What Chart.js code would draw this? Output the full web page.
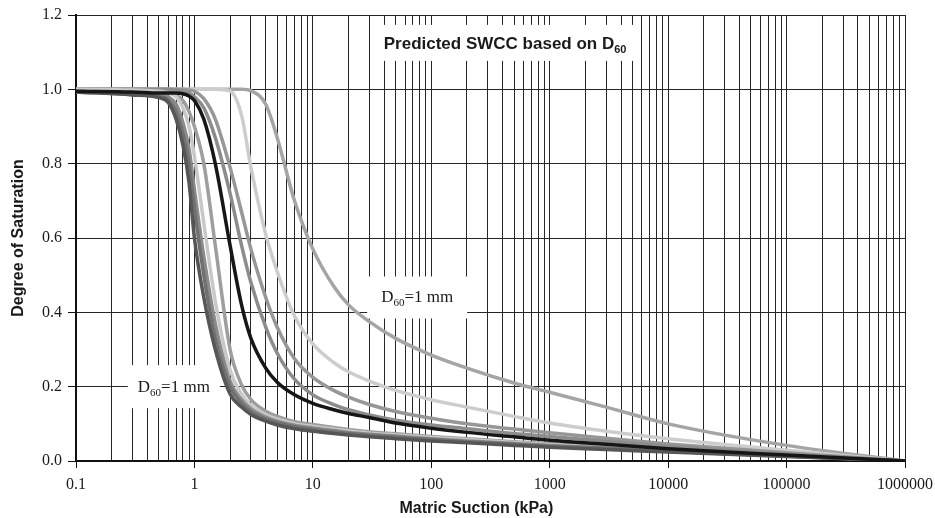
<!DOCTYPE html>
<html>
<head>
<meta charset="utf-8">
<script src="https://cdn.jsdelivr.net/npm/chart.js@4.4.0/dist/chart.umd.min.js"></script>
<style>
  body { margin: 0; background: #fff; }
</style>
</head>
<body>
<canvas id="chart" width="935" height="518"></canvas>
<script>
const suction = [0.1, 0.3, 0.5, 0.6, 0.7, 0.8, 0.9, 1, 1.2, 1.5, 2, 2.5, 3, 4, 5, 7, 10, 15, 20, 30, 50, 100, 200, 500, 1000, 3000, 10000, 100000, 1000000];

// degree of saturation, one array per curve
const curveBlack = [0.995, 0.993, 0.99, 0.99, 0.99, 0.988, 0.982, 0.97, 0.92, 0.8, 0.58, 0.42, 0.33, 0.25, 0.212, 0.178, 0.155, 0.138, 0.128, 0.117, 0.102, 0.088, 0.077, 0.065, 0.056, 0.045, 0.033, 0.016, 0];
const curveA = [0.993, 0.985, 0.978, 0.965, 0.92, 0.85, 0.75, 0.6, 0.44, 0.3, 0.18, 0.145, 0.125, 0.107, 0.097, 0.087, 0.08, 0.074, 0.07, 0.065, 0.06, 0.054, 0.049, 0.042, 0.037, 0.031, 0.024, 0.012, 0];
const curveB = [0.993, 0.986, 0.98, 0.972, 0.94, 0.88, 0.8, 0.68, 0.5, 0.33, 0.2, 0.155, 0.133, 0.113, 0.103, 0.092, 0.085, 0.078, 0.074, 0.069, 0.064, 0.058, 0.052, 0.045, 0.04, 0.034, 0.026, 0.013, 0];
const curveC = [0.995, 0.99, 0.985, 0.98, 0.96, 0.91, 0.84, 0.73, 0.55, 0.37, 0.215, 0.165, 0.14, 0.118, 0.107, 0.096, 0.089, 0.082, 0.077, 0.072, 0.067, 0.06, 0.054, 0.047, 0.042, 0.035, 0.027, 0.014, 0];
const curveD = [1.0, 0.998, 0.995, 0.99, 0.98, 0.95, 0.9, 0.82, 0.64, 0.43, 0.245, 0.18, 0.15, 0.125, 0.113, 0.1, 0.093, 0.086, 0.081, 0.075, 0.07, 0.063, 0.057, 0.05, 0.044, 0.037, 0.029, 0.015, 0];
const curveE = [1.0, 0.998, 0.996, 0.993, 0.985, 0.97, 0.94, 0.9, 0.8, 0.58, 0.3, 0.205, 0.165, 0.134, 0.12, 0.106, 0.098, 0.09, 0.085, 0.079, 0.073, 0.066, 0.06, 0.052, 0.047, 0.039, 0.031, 0.016, 0];
const curveG = [1.0, 1.0, 1.0, 1.0, 0.998, 0.995, 0.99, 0.98, 0.95, 0.87, 0.72, 0.58, 0.48, 0.36, 0.29, 0.22, 0.178, 0.152, 0.138, 0.124, 0.11, 0.097, 0.087, 0.074, 0.066, 0.053, 0.04, 0.019, 0];
const curveH = [1.0, 1.0, 1.0, 1.0, 1.0, 1.0, 0.998, 0.995, 0.975, 0.92, 0.79, 0.67, 0.57, 0.44, 0.36, 0.275, 0.225, 0.19, 0.172, 0.152, 0.133, 0.115, 0.1, 0.086, 0.076, 0.061, 0.046, 0.022, 0];
const curveI = [1.0, 1.0, 1.0, 1.0, 1.0, 1.0, 1.0, 1.0, 1.0, 1.0, 0.995, 0.93, 0.79, 0.61, 0.51, 0.39, 0.315, 0.265, 0.24, 0.215, 0.19, 0.165, 0.145, 0.12, 0.102, 0.08, 0.06, 0.029, 0];
const curveJ = [1.0, 1.0, 1.0, 1.0, 1.0, 1.0, 1.0, 1.0, 1.0, 1.0, 1.0, 1.0, 0.996, 0.96, 0.87, 0.7, 0.57, 0.47, 0.42, 0.375, 0.33, 0.285, 0.25, 0.21, 0.185, 0.145, 0.1, 0.042, 0];

// x axis labels sit on these decades, y ticks every 0.2
const decades = [0.1, 1, 10, 100, 1000, 10000, 100000, 1000000];
const satTicks = [0, 0.2, 0.4, 0.6, 0.8, 1.0, 1.2];

const serif = "'Liberation Serif', 'Times New Roman', serif";
const sans = "'Liberation Sans', Arial, sans-serif";

function toPoints(ys) {
  return suction.map((x, i) => ({ x: x, y: ys[i] }));
}

function curve(ys, colour) {
  return {
    data: toPoints(ys),
    borderColor: colour,
    borderWidth: 3.5,
    pointRadius: 0,
    cubicInterpolationMode: "monotone",
    fill: false,
  };
}

function isDecade(v) {
  const l = Math.log10(v);
  return Math.abs(l - Math.round(l)) < 1e-6;
}

// text with a subscript, e.g. D + 60 + "=1 mm"
function drawParts(ctx, parts, x, y) {
  let cx = x;
  parts.forEach((p) => {
    ctx.font = p.font;
    ctx.fillText(p.text, cx, y + (p.dy || 0));
    cx += ctx.measureText(p.text).width;
  });
}

function partsWidth(ctx, parts) {
  let w = 0;
  parts.forEach((p) => {
    ctx.font = p.font;
    w += ctx.measureText(p.text).width;
  });
  return w;
}

const labelPlugin = {
  id: "labels",
  beforeDatasetsDraw(chart) {
    const ctx = chart.ctx;
    const xs = chart.scales.x;
    const ys = chart.scales.y;
    ctx.save();
    ctx.textBaseline = "alphabetic";

    const boxes = [
      {
        x: 420, y: 1.125, w: 270, h: 36, base: 6,
        parts: [
          { text: "Predicted SWCC based on D", font: "bold 17px " + sans },
          { text: "60", font: "bold 11px " + sans, dy: 4 },
        ],
      },
      {
        x: 0.67, y: 0.2, w: 92, h: 43, base: 5,
        parts: [
          { text: "D", font: "17px " + serif },
          { text: "60", font: "11px " + serif, dy: 4 },
          { text: "=1 mm", font: "17px " + serif },
        ],
      },
      {
        x: 76, y: 0.44, w: 100, h: 42, base: 5,
        parts: [
          { text: "D", font: "17px " + serif },
          { text: "60", font: "11px " + serif, dy: 4 },
          { text: "=1 mm", font: "17px " + serif },
        ],
      },
    ];

    boxes.forEach((b) => {
      const px = xs.getPixelForValue(b.x);
      const py = ys.getPixelForValue(b.y);
      ctx.fillStyle = "#ffffff";
      ctx.fillRect(px - b.w / 2, py - b.h / 2, b.w, b.h);
      ctx.fillStyle = "#1a1a1a";
      const w = partsWidth(ctx, b.parts);
      drawParts(ctx, b.parts, px - w / 2, py + b.base);
    });

    ctx.restore();
  },
  afterDraw(chart) {
    const ctx = chart.ctx;
    const area = chart.chartArea;
    ctx.save();
    ctx.fillStyle = "#1a1a1a";
    ctx.font = "bold 16px " + sans;
    ctx.textAlign = "center";
    ctx.textBaseline = "alphabetic";
    ctx.fillText("Matric Suction (kPa)", area.left + (area.right - area.left) * 0.483, 513);
    ctx.restore();
  },
};

new Chart(document.getElementById("chart"), {
  type: "line",
  data: {
    datasets: [
      curve(curveBlack, "#161616"),
      curve(curveA, "#565656"),
      curve(curveB, "#707070"),
      curve(curveC, "#8a8a8a"),
      curve(curveD, "#c8c8c8"),
      curve(curveE, "#9e9e9e"),
      curve(curveG, "#8c8c8c"),
      curve(curveH, "#979797"),
      curve(curveI, "#cdcdcd"),
      curve(curveJ, "#a5a5a5"),
    ],
  },
  options: {
    responsive: false,
    devicePixelRatio: 1,
    animation: false,
    layout: { padding: { top: 15, right: 30, left: 0, bottom: 0 } },
    plugins: {
      legend: { display: false },
      tooltip: { enabled: false },
    },
    scales: {
      x: {
        type: "logarithmic",
        min: 0.1,
        max: 1000000,
        afterBuildTicks(scale) {
          const ticks = [];
          decades.forEach((d) => {
            for (let k = 1; k <= 9; k++) {
              const v = d * k;
              if (v <= 1000000) ticks.push({ value: v });
            }
          });
          scale.ticks = ticks;
        },
        afterFit(scale) {
          scale.height = 57;
          scale.paddingLeft = 0;
          scale.paddingRight = 0;
        },
        grid: {
          color: "#262626",
          lineWidth: 1,
          tickLength: 7,
          tickColor: (c) => (c.tick && isDecade(c.tick.value) ? "#111" : "rgba(0,0,0,0)"),
        },
        border: { display: true, color: "#111", width: 2 },
        ticks: {
          autoSkip: false,
          maxRotation: 0,
          padding: 7,
          color: "#1a1a1a",
          font: { family: serif, size: 16 },
          callback: (v) => (isDecade(v) ? String(decades.find((d) => Math.abs(d - v) / d < 1e-6)) : ""),
        },
      },
      y: {
        type: "linear",
        min: 0,
        max: 1.2,
        afterBuildTicks(scale) {
          scale.ticks = satTicks.map((v) => ({ value: v }));
        },
        afterFit(scale) {
          scale.width = 76;
          scale.paddingTop = 0;
          scale.paddingBottom = 0;
        },
        grid: { color: "#262626", lineWidth: 1, tickLength: 8, tickColor: "#111" },
        border: { display: true, color: "#111", width: 2 },
        ticks: {
          padding: 6,
          color: "#1a1a1a",
          font: { family: serif, size: 16 },
          callback: (v) => Number(v).toFixed(1),
        },
        title: {
          display: true,
          text: "Degree of Saturation",
          color: "#1a1a1a",
          font: { family: sans, size: 16, weight: "bold" },
          padding: { top: 9, bottom: 4 },
        },
      },
    },
  },
  plugins: [labelPlugin],
});
</script>
</body>
</html>
